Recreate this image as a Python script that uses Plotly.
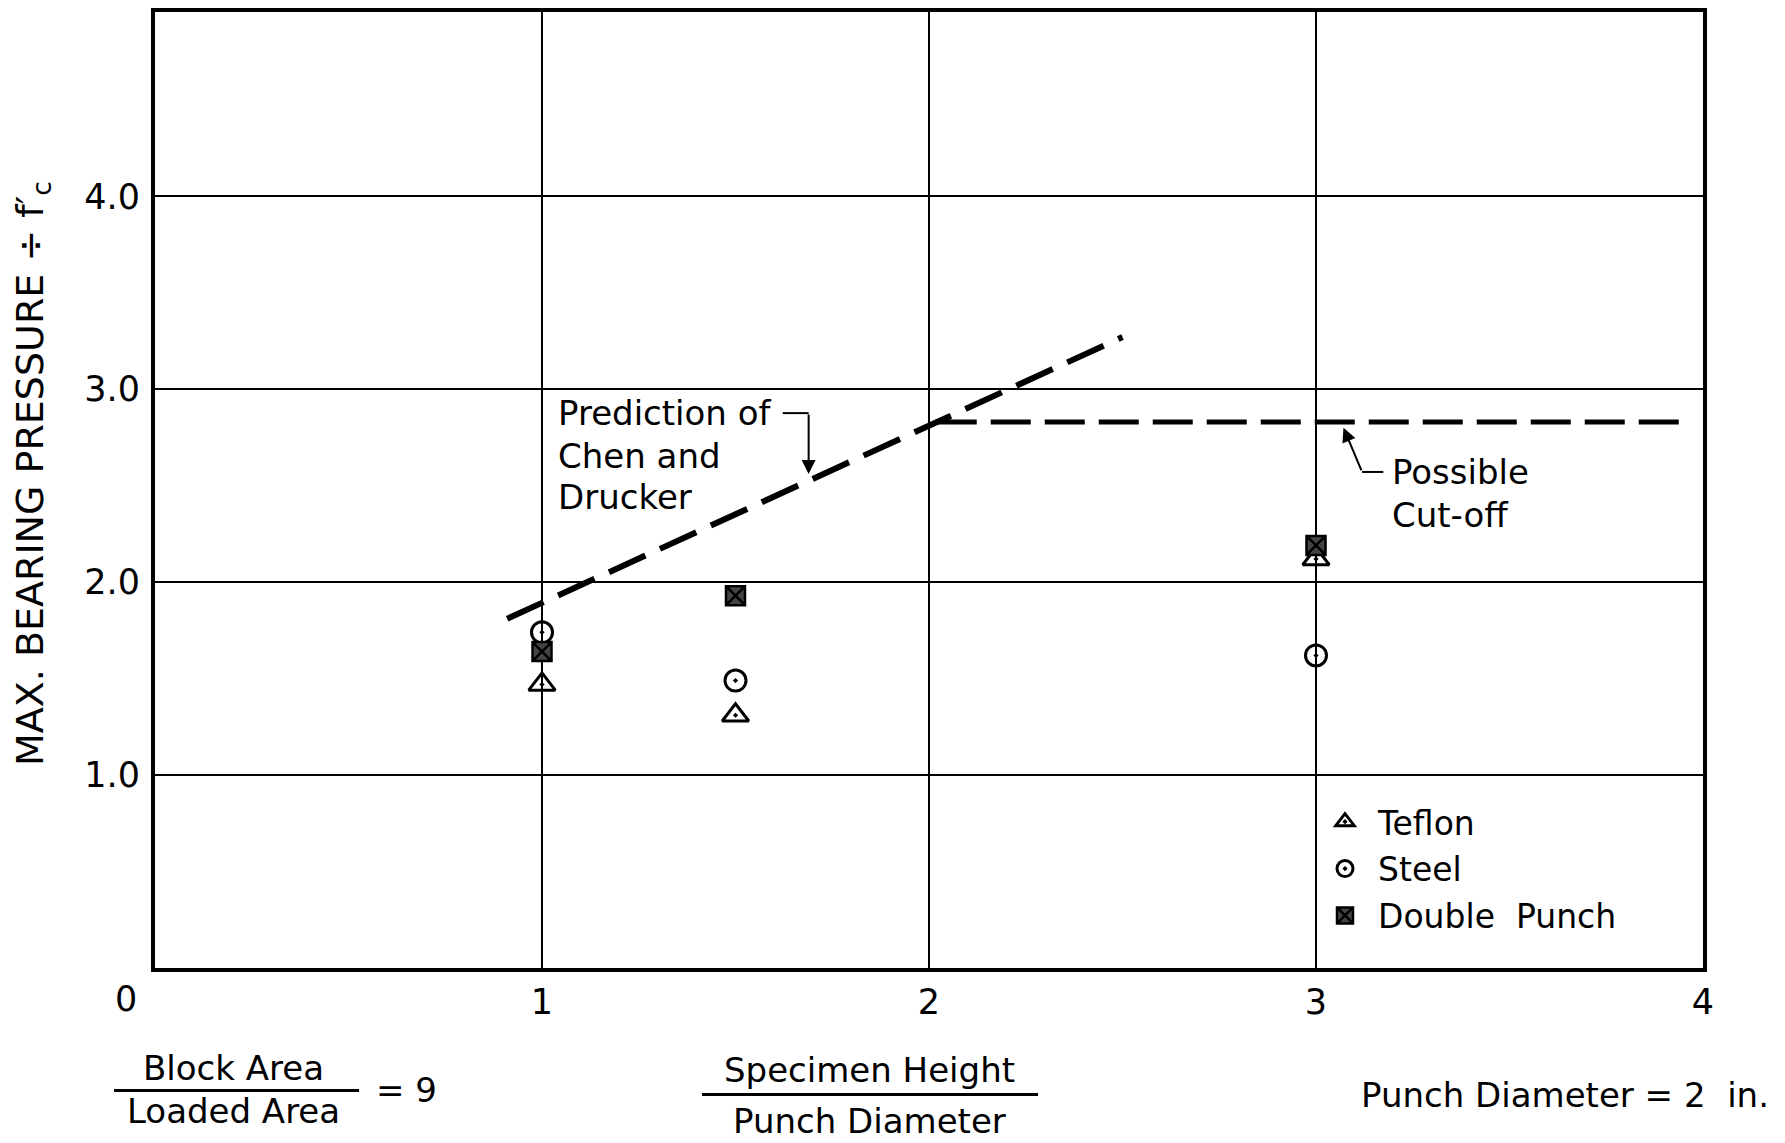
import plotly.graph_objects as go

# ---- data ----
x_ratio = [1, 1.5, 3]
teflon = [1.47, 1.31, 2.12]
steel = [1.74, 1.49, 1.62]
double_punch = [1.64, 1.93, 2.19]

chen_x = [0.91, 2.5]
chen_y = [1.81, 3.27]
cutoff_x = [2.02, 3.94]
cutoff_y = [2.83, 2.83]

x_tick_vals = [1, 2, 3, 4]
x_tick_text = ["1", "2", "3", "4"]
y_tick_vals = [1, 2, 3, 4]
y_tick_text = ["1.0", "2.0", "3.0", "4.0"]

FONT = "DejaVu Sans"
W, H = 1785, 1143
OFF = 8  # page body margin
# plot area in page pixels
PL, PR, PT, PB = 155, 1703, 8, 968
L = PL - OFF
R = W - PR + OFF
T = PT - OFF
B = H - (PB - OFF)
PW, PH = PR - PL, PB - PT


def px(xp):
    return (xp - PL) / PW


def py(yp):
    return (PB - yp) / PH


fig = go.Figure()

fig.add_trace(go.Scatter(x=chen_x, y=chen_y, mode="lines", showlegend=False,
                         line=dict(color="black", width=6, dash="40px,16px")))
fig.add_trace(go.Scatter(x=cutoff_x, y=cutoff_y, mode="lines", showlegend=False,
                         line=dict(color="black", width=5, dash="40px,14px")))

fig.add_trace(go.Scatter(x=x_ratio, y=teflon, mode="markers", name="Teflon", legendgroup="a",
                         marker=dict(symbol="triangle-up-open-dot", size=23, color="black",
                                     line=dict(width=3, color="black"))))
fig.add_trace(go.Scatter(x=x_ratio, y=steel, mode="markers", name="Steel", legendgroup="b",
                         marker=dict(symbol="circle-open-dot", size=21, color="black",
                                     line=dict(width=3, color="black"))))
fig.add_trace(go.Scatter(x=x_ratio, y=double_punch, mode="markers", name="Double  Punch", legendgroup="c",
                         marker=dict(symbol="square-x", size=19, color="#444444",
                                     line=dict(width=2.5, color="black"))))

LBL = dict(size=34, color="black", family=FONT)
annotations = []
for txt, yy in [("Prediction of", 2.876), ("Chen and", 2.656), ("Drucker", 2.439)]:
    annotations.append(dict(x=1.035, y=yy, xref="x", yref="y", text=txt, showarrow=False,
                            xanchor="left", yanchor="middle", font=LBL))
for txt, yy in [("Possible", 2.571), ("Cut-off", 2.349)]:
    annotations.append(dict(x=3.19, y=yy, xref="x", yref="y", text=txt, showarrow=False,
                            xanchor="left", yanchor="middle", font=LBL))

# arrows
annotations.append(dict(x=1.689, y=2.56, ax=1.689, ay=2.876, xref="x", yref="y", axref="x", ayref="y",
                        text="", showarrow=True, arrowhead=2, arrowsize=1.4, arrowwidth=2, arrowcolor="black"))
annotations.append(dict(x=3.071, y=2.80, ax=3.119, ay=2.571, xref="x", yref="y", axref="x", ayref="y",
                        text="", showarrow=True, arrowhead=2, arrowsize=1.4, arrowwidth=2, arrowcolor="black"))

# origin label
annotations.append(dict(x=0, y=py(999), xref="x", yref="paper", text="0", showarrow=False,
                        xanchor="center", yanchor="middle", xshift=-29,
                        font=dict(size=35, color="black", family=FONT)))

# y title
annotations.append(dict(x=px(32), y=py(472), xref="paper", yref="paper", textangle=-90,
                        xanchor="center", yanchor="middle",
                        text="MAX. BEARING PRESSURE ÷ f′<sub>c</sub>", showarrow=False,
                        font=dict(size=38, color="black", family=FONT)))

# bottom texts
bottom = [
    ("Block Area", 233, 1068, "center", 34),
    ("Loaded Area", 233, 1112, "center", 34),
    ("= 9", 374, 1091, "left", 34),
    ("Specimen Height", 869, 1070, "center", 34),
    ("Punch Diameter", 869, 1122, "center", 34),
    ("Punch Diameter = 2  in.", 1565, 1096, "center", 34),
]
for txt, xp, yp, anc, fs in bottom:
    annotations.append(dict(x=px(xp), y=py(yp), xref="paper", yref="paper", text=txt, showarrow=False,
                            xanchor=anc, yanchor="middle", font=dict(size=fs, color="black", family=FONT)))

shapes = [
    dict(type="line", xref="paper", yref="paper", x0=px(114), x1=px(359), y0=py(1091), y1=py(1091),
         line=dict(color="black", width=3)),
    dict(type="line", xref="paper", yref="paper", x0=px(702), x1=px(1038), y0=py(1095), y1=py(1095),
         line=dict(color="black", width=3)),
    dict(type="line", xref="x", yref="y", x0=1.622, x1=1.689, y0=2.876, y1=2.876,
         line=dict(color="black", width=2)),
    dict(type="line", xref="x", yref="y", x0=3.119, x1=3.174, y0=2.571, y1=2.571,
         line=dict(color="black", width=2)),
]

fig.update_layout(
    width=W, height=H,
    margin=dict(l=L, r=R, t=T, b=B, pad=0),
    paper_bgcolor="white", plot_bgcolor="white",
    font=dict(family=FONT, color="black", size=28),
    annotations=annotations, shapes=shapes,
    legend=dict(x=px(1312), y=py(793), xanchor="left", yanchor="top",
                font=dict(size=33, color="black", family=FONT),
                bgcolor="rgba(0,0,0,0)", tracegroupgap=1, itemwidth=56),
)
fig.update_xaxes(range=[0, 4], tickvals=x_tick_vals, ticktext=x_tick_text,
                 showgrid=True, gridcolor="black", gridwidth=2, zeroline=False,
                 showline=True, linecolor="black", linewidth=4, mirror=True,
                 ticks="", ticklabelstandoff=0, tickfont=dict(size=35, family=FONT))
fig.update_yaxes(range=[0, 4.955], tickvals=y_tick_vals, ticktext=y_tick_text,
                 showgrid=True, gridcolor="black", gridwidth=2, zeroline=False,
                 showline=True, linecolor="black", linewidth=4, mirror=True,
                 ticks="", ticklabelstandoff=4, tickfont=dict(size=35, family=FONT))

fig.write_html("out.html")
